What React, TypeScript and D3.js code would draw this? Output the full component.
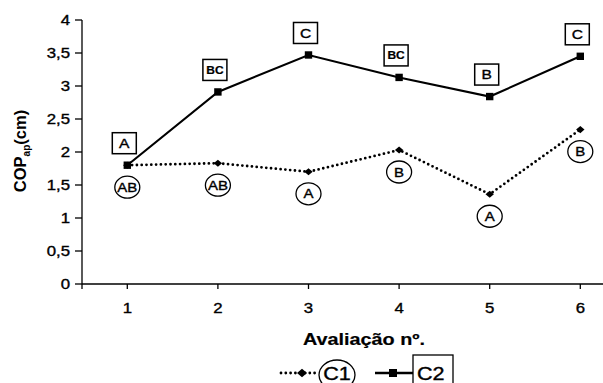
import React from "react";
import * as d3 from "d3";

const categories = ["1", "2", "3", "4", "5", "6"];
const c1Values = [1.8, 1.83, 1.7, 2.03, 1.36, 2.34];
const c2Values = [1.8, 2.91, 3.47, 3.13, 2.84, 3.45];
const c1Letters = ["AB", "AB", "A", "B", "A", "B"];
const c2Letters = ["A", "BC", "C", "BC", "B", "C"];
const yTicks = [0, 0.5, 1, 1.5, 2, 2.5, 3, 3.5, 4];

const W = 603;
const H = 383;
const FONT = "'Liberation Sans', Arial, Helvetica, sans-serif";
const SX = 1.2;

const x = d3.scaleBand<string>().domain(categories).range([82, 82 + 6 * 90.6]).paddingInner(0).paddingOuter(0);
const y = d3.scaleLinear().domain([0, 4]).range([284, 20]);
const cx = (c: string) => (x(c) as number) + x.bandwidth() / 2;

const fmt = (v: number) => String(v).replace(".", ",");

function T(props: { x: number; y: number; anchor?: string; size: number; bold?: boolean; weight?: number; children: React.ReactNode }) {
  return (
    <text
      transform={`translate(${props.x},${props.y}) scale(${SX},1)`}
      textAnchor={props.anchor || "middle"}
      fontSize={props.size}
      fontWeight={props.bold ? "bold" : "normal"}
      fontFamily={FONT}
      fill="#000"
      stroke="#000"
      strokeWidth={props.weight ?? 0.35}
    >
      {props.children}
    </text>
  );
}

function diamond(px: number, py: number, r = 4.2) {
  return `M${px},${py - r * 0.85}L${px + r},${py}L${px},${py + r * 0.85}L${px - r},${py}Z`;
}

export default function App() {
  const line = d3
    .line<number>()
    .x((_, i) => cx(categories[i]))
    .y((d) => y(d));

  const LY = 373;

  return (
    <svg width={W} height={H} style={{ position: "absolute", left: 0, top: 0, background: "#fff" }}>
      <rect x={0} y={0} width={W} height={H} fill="#fff" />
      {/* Y axis */}
      <line x1={82} x2={82} y1={y(4)} y2={y(0)} stroke="#000" strokeWidth={1.3} />
      {yTicks.map((t) => (
        <g key={t}>
          <line x1={75} x2={82} y1={y(t)} y2={y(t)} stroke="#000" strokeWidth={1.3} />
          <T x={70} y={y(t) + 5} anchor="end" size={14}>
            {fmt(t)}
          </T>
        </g>
      ))}
      {/* X axis */}
      <line x1={82} x2={W} y1={y(0)} y2={y(0)} stroke="#000" strokeWidth={1.3} />
      <line x1={82} x2={82} y1={y(0)} y2={y(0) + 5} stroke="#000" strokeWidth={1.3} />
      {categories.map((c) => (
        <g key={c}>
          <line x1={cx(c)} x2={cx(c)} y1={y(0)} y2={y(0) + 5} stroke="#000" strokeWidth={1.3} />
          <T x={cx(c)} y={313} size={14}>
            {c}
          </T>
        </g>
      ))}
      <T x={364} y={345} size={16.5} bold weight={0.2}>
        Avaliação nº.
      </T>
      {/* Y title */}
      <text
        transform="translate(26,151) rotate(-90)"
        textAnchor="middle"
        fontSize={16.5}
        fontWeight="bold"
        fontFamily={FONT}
      >
        COP
        <tspan fontSize={10} dy={4}>
          ap
        </tspan>
        <tspan dy={-4}>(cm)</tspan>
      </text>

      {/* C1 dotted */}
      <path
        d={line(c1Values) || ""}
        fill="none"
        stroke="#000"
        strokeWidth={2.8}
        strokeDasharray="0 4.8"
        strokeLinecap="round"
      />
      {c1Values.map((v, i) => (
        <path key={i} d={diamond(cx(categories[i]), y(v))} fill="#000" />
      ))}
      {/* C2 solid */}
      <path d={line(c2Values) || ""} fill="none" stroke="#000" strokeWidth={2.1} />
      {c2Values.map((v, i) => (
        <rect key={i} x={cx(categories[i]) - 3.7} y={y(v) - 3.7} width={7.4} height={7.4} fill="#000" />
      ))}

      {/* letter labels */}
      {c2Values.map((v, i) => {
        const px = cx(categories[i]) - 3;
        const py = y(v) - 22;
        const two = c2Letters[i].length > 1;
        return (
          <g key={"b" + i}>
            <rect x={px - 12} y={py - 10.5} width={24} height={21} fill="#fff" stroke="#000" strokeWidth={1.5} />
            <T x={px} y={py + (two ? 3.8 : 4.6)} size={two ? 10 : 13} bold={two} weight={two ? 0.2 : 0.35}>
              {c2Letters[i]}
            </T>
          </g>
        );
      })}
      {c1Values.map((v, i) => {
        const px = cx(categories[i]);
        const py = y(v) + 22;
        return (
          <g key={"c" + i}>
            <ellipse cx={px} cy={py} rx={12.5} ry={11} fill="#fff" stroke="#000" strokeWidth={1.3} />
            <T x={px} y={py + 4.5} size={12.5}>
              {c1Letters[i]}
            </T>
          </g>
        );
      })}

      {/* legend */}
      <line x1={281} x2={318} y1={LY} y2={LY} stroke="#000" strokeWidth={2.8} strokeDasharray="0 4.8" strokeLinecap="round" />
      <path d={diamond(302, LY, 5)} fill="#000" />
      <ellipse cx={337} cy={LY + 2} rx={18} ry={15} fill="#fff" stroke="#000" strokeWidth={1.3} />
      <T x={337} y={LY + 6.5} size={18}>
        C1
      </T>
      <line x1={375} x2={413} y1={LY} y2={LY} stroke="#000" strokeWidth={2.5} />
      <rect x={389} y={LY - 4} width={8} height={8} fill="#000" />
      <rect x={413} y={355} width={40} height={40} fill="#fff" stroke="#000" strokeWidth={1.3} />
      <T x={417} y={LY + 6.5} anchor="start" size={18}>
        C2
      </T>
    </svg>
  );
}
